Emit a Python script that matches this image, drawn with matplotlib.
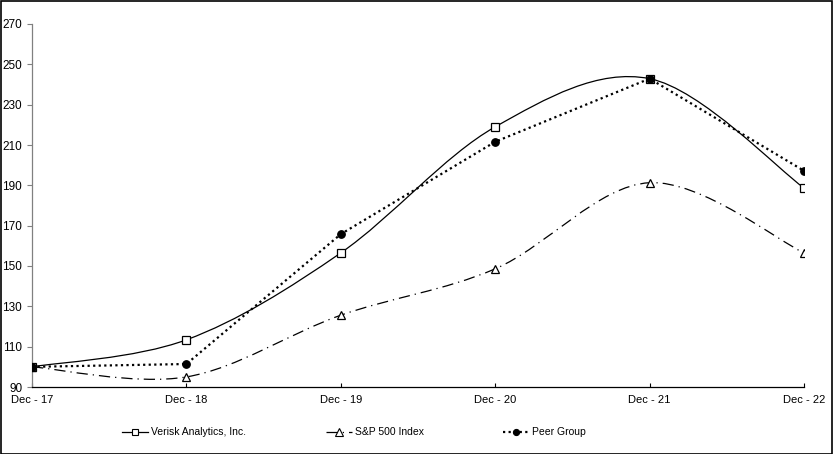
import numpy as np
import matplotlib
matplotlib.use('Agg')
import matplotlib.pyplot as plt
from matplotlib.path import Path
from matplotlib.patches import PathPatch, Rectangle
from matplotlib.lines import Line2D

plt.rcParams['font.family'] = ['Liberation Sans', 'DejaVu Sans']

periods = ['Dec - 17', 'Dec - 18', 'Dec - 19', 'Dec - 20', 'Dec - 21', 'Dec - 22']
verisk = [100, 113.4, 156.5, 219.0, 242.9, 188.7]
sp500 = [100, 95.0, 125.6, 148.6, 191.3, 156.5]
peer = [100, 101.4, 165.8, 211.6, 242.9, 197.2]
yticks = [90, 110, 130, 150, 170, 190, 210, 230, 250, 270]


def smooth_path(xs, ys):
    # Excel-like smoothed line: Catmull-Rom segments as cubic Beziers
    pts = np.column_stack([xs, ys]).astype(float)
    n = len(pts)
    verts = [pts[0]]
    codes = [Path.MOVETO]
    for i in range(n - 1):
        p0 = pts[max(i - 1, 0)]
        p1 = pts[i]
        p2 = pts[i + 1]
        p3 = pts[min(i + 2, n - 1)]
        c1 = p1 + (p2 - p0) / 6.0
        c2 = p2 - (p3 - p1) / 6.0
        verts += [c1, c2, p2]
        codes += [Path.CURVE4] * 3
    return Path(verts, codes)


fig = plt.figure(figsize=(8.33, 4.54), dpi=100)
ax = fig.add_axes([32 / 833, 67 / 454, 772 / 833, 363 / 454])
x = np.arange(len(periods))

series = [
    (verisk, '-', 0.9, True, 's', 'white', 5.6, 'Verisk Analytics, Inc.'),
    (sp500, (0, (9, 4, 1, 4)), 0.9, True, '^', 'white', 6.2, 'S&P 500 Index'),
    (peer, (0, (1, 1.5)), 1.6, False, 'o', 'black', 5.4, 'Peer Group'),
]
handles = []
for vals, ls, lw, smooth, mk, mfc, ms, lab in series:
    if smooth:
        ax.add_patch(PathPatch(smooth_path(x, vals), facecolor='none', edgecolor='black',
                               linewidth=lw, linestyle=ls, zorder=2))
    else:
        ax.plot(x, vals, color='black', linewidth=lw, linestyle=ls, zorder=2)
    ax.plot(x, vals, linestyle='none', marker=mk, markersize=ms, markerfacecolor=mfc,
            markeredgecolor='black', markeredgewidth=0.9, zorder=3)
    handles.append(Line2D([], [], color='black', linewidth=lw, linestyle=ls, marker=mk,
                          markersize=ms - 1, markerfacecolor=mfc, markeredgecolor='black',
                          markeredgewidth=0.8, label=lab))

ax.set_xlim(0, len(periods) - 1)
ax.set_ylim(90, 270)
ax.set_yticks(yticks)
ax.set_xticks(x)
ax.set_xticklabels(periods)
for s in ['top', 'right']:
    ax.spines[s].set_visible(False)
ax.spines['left'].set_color('#808080')
ax.spines['left'].set_linewidth(0.9)
ax.spines['bottom'].set_color('black')
ax.spines['bottom'].set_linewidth(0.9)
ax.tick_params(axis='y', direction='out', length=3.6, color='#808080', labelsize=8.5, pad=3.5)
ax.tick_params(axis='x', direction='in', length=3, color='black', labelsize=8, pad=6)

fig.legend(handles=handles, loc='center', bbox_to_anchor=(0.425, 0.048), ncol=3,
           frameon=False, fontsize=7.5, handlelength=2.5, columnspacing=7.6,
           handletextpad=0.3, numpoints=1)

fig.patches.append(Rectangle((0.5 / 833, 0.5 / 454), 1 - 1.5 / 833, 1 - 1.5 / 454,
                             transform=fig.transFigure, fill=False, edgecolor='black',
                             linewidth=1.2))

fig.savefig('out.png', dpi=100)
